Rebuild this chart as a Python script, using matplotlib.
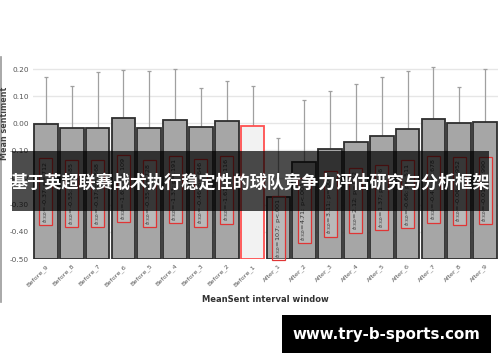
import matplotlib
matplotlib.use("Agg")
import matplotlib.pyplot as plt
from matplotlib.patches import Rectangle
from matplotlib.lines import Line2D
import numpy as np

categories = ["Before_9", "Before_8", "Before_7", "Before_6", "Before_5", "Before_4",
              "Before_3", "Before_2", "Before_1", "After_1", "After_2", "After_3",
              "After_4", "After_5", "After_6", "After_7", "After_8", "After_9"]
means = [-0.003, -0.018, -0.018, 0.021, -0.018, 0.012, -0.013, 0.010, -0.010,
         -0.270, -0.144, -0.095, -0.068, -0.046, -0.022, 0.015, 0.002, 0.006]
err_upper = [0.170, 0.137, 0.190, 0.196, 0.194, 0.200, 0.129, 0.156, 0.137,
             -0.055, 0.086, 0.119, 0.144, 0.172, 0.193, 0.209, 0.134, 0.201]
t_values = ["-0.37", "-0.55", "-0.17", "-1.65", "-0.35", "-1.33", "-0.46", "-1.61", None,
            "10.7", "4.71", "3.11", "2.12", "1.37", "-0.66", "-0.42", "-0.06", "-0.01"]
p_values = ["=.712", "=.585", "=.868", "=.109", "=.728", "=.191", "=.646", "=.116", None,
            "<.001", "<.001", "=.004", "=.042", "=.176", "=.511", "=.678", "=.952", "=.990"]
yticks = [-0.5, -0.4, -0.3, -0.2, -0.1, 0.0, 0.1, 0.2]
title_text = "基于英超联赛战术执行稳定性的球队竞争力评估研究与分析框架"
watermark = "www.try-b-sports.com"
reference_idx = 8
base = -0.5

W, H = 500, 362
fig = plt.figure(figsize=(W / 100, H / 100), dpi=100)
ax = fig.add_axes([33 / W, 1 - 259 / H, (498 - 33) / W, (259 - 55.5) / H])

x = np.arange(len(categories))
vals = np.array(means)
errs = np.array(err_upper) - vals

ax.set_axisbelow(True)
ax.grid(axis="y", color="#e6e6e6", linewidth=1.0)
ax.errorbar(x, vals, yerr=errs, fmt="none", ecolor="#a0a0a0", elinewidth=0.9,
            capsize=1.6, capthick=0.9, zorder=1.5)
faces = ["#f2f2f2" if i == reference_idx else "#a6a6a6" for i in x]
edges = ["#ff5050" if i == reference_idx else "#2e2e2e" for i in x]
ax.bar(x, vals - base, bottom=base, width=0.92, color=faces, edgecolor=edges,
       linewidth=1.3, zorder=2)

for i, (t, p) in enumerate(zip(t_values, p_values)):
    if t is None:
        continue
    label = r"$t_{(32)}$=" + t + "; p" + p
    ax.text(i, (vals[i] + base) / 2, label, rotation=90, ha="center", va="center",
            fontsize=4.6, color="#333333", zorder=3,
            bbox=dict(boxstyle="square,pad=0.35", fc=(1, 1, 1, 0.22), ec="#e03535", lw=0.9))

ax.set_xlim(-0.5, len(categories) - 0.5)
ax.set_ylim(base, 0.25)
ax.set_yticks(yticks)
ax.set_yticklabels([f"{v:.2f}" for v in yticks], fontsize=5.3, color="#555555")
ax.set_xticks(x)
ax.set_xticklabels(categories, rotation=45, ha="right", rotation_mode="anchor",
                   fontsize=4.6, color="#555555")
ax.tick_params(length=0, pad=3)
for s in ax.spines.values():
    s.set_visible(False)

fig.text(5 / W, 1 - 123 / H, "Mean sentiment", rotation=90, ha="center", va="center",
         fontsize=5.8, color="#444444", fontweight="bold")
fig.text(265 / W, 1 - 299 / H, "MeanSent interval window", ha="center", va="center",
         fontsize=6, color="#333333", fontweight="bold")

fig.lines.append(Line2D([0.8 / W, 0.8 / W], [1 - 57 / H, 1 - 302 / H], transform=fig.transFigure,
                        color="#999999", linewidth=1.2))

fig.patches.append(Rectangle((12 / W, 1 - 211 / H), 477 / W, 60 / H, transform=fig.transFigure,
                             facecolor="black", alpha=0.7, zorder=10))
fig.text(250.5 / W, 1 - 183 / H, title_text, ha="center", va="center", fontsize=12.3,
         color="white", fontweight="bold", family=["Noto Sans CJK SC", "DejaVu Sans"], zorder=11)

fig.patches.append(Rectangle((282 / W, 1 - 353 / H), 209 / W, 38 / H, transform=fig.transFigure,
                             facecolor="black", zorder=10))
fig.text(386 / W, 1 - 334 / H, watermark, ha="center", va="center", fontsize=10.8,
         color="white", fontweight="bold", family="DejaVu Sans", zorder=11)

fig.savefig("out.png", dpi=100)
